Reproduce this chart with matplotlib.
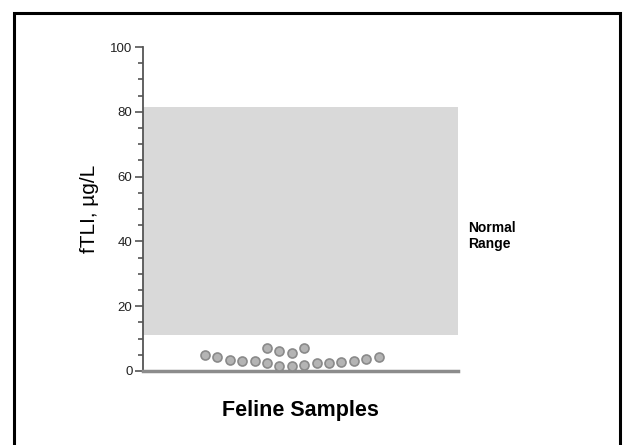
"""Dot plot of feline fTLI values against the normal range."""
import matplotlib
matplotlib.use("Agg")
import matplotlib.pyplot as plt
from matplotlib.patches import Rectangle

plt.rcParams["font.family"] = ["Liberation Sans", "DejaVu Sans"]

# sample values (µg/L) and their horizontal slots in the swarm
lower_pos = [5, 6, 7, 8, 9, 10, 11, 12, 13, 14, 15, 16, 17, 18, 19]
lower_vals = [5.0, 4.2, 3.4, 3.1, 3.0, 2.4, 1.6, 1.6, 1.9, 2.4, 2.6, 2.9, 3.2, 3.6, 4.4]
upper_pos = [10, 11, 12, 13]
upper_vals = [7.0, 6.2, 5.7, 7.0]

normal_low = 11
normal_high = 81.5
y_ticks = [0, 20, 40, 60, 80, 100]


def main() -> None:
    fig = plt.figure(figsize=(6.23, 4.45), dpi=100)
    fig.patch.set_facecolor("white")
    # black frame round the whole slide
    fig.add_artist(Rectangle((0.022, -0.02), 0.973, 0.99, transform=fig.transFigure,
                             fill=False, edgecolor="black", linewidth=2.2))

    ax = fig.add_axes([0.2295, 0.1663, 0.5055, 0.728])
    ax.set_xlim(0, 25.4)
    ax.set_ylim(0, 100)

    ax.axhspan(normal_low, normal_high, color="#d9d9d9", zorder=0, linewidth=0)

    ax.scatter(lower_pos + upper_pos, lower_vals + upper_vals, s=42,
               facecolor="#b4b4b4", edgecolor="#8a8a8a", linewidth=1.2,
               zorder=3, clip_on=False)

    for side in ("top", "right"):
        ax.spines[side].set_visible(False)
    ax.spines["left"].set_color("#555555")
    ax.spines["left"].set_linewidth(1.3)
    ax.spines["bottom"].set_color("#8c8c8c")
    ax.spines["bottom"].set_linewidth(2.5)

    ax.set_xticks([])
    ax.set_yticks(y_ticks)
    ax.set_yticks(range(0, 101, 5), minor=True)
    ax.tick_params(axis="y", which="major", length=5.5, width=1.2, color="#555555",
                   labelsize=9.5, labelcolor="#222222", pad=2)
    ax.tick_params(axis="y", which="minor", length=3.5, width=1.2, color="#555555")

    ax.set_ylabel("fTLI, µg/L", fontsize=15, labelpad=8)
    ax.set_xlabel("Feline Samples", fontsize=15.5, fontweight="bold", labelpad=21)

    fig.text(0.751, 0.47, "Normal\nRange", fontsize=10, fontweight="bold",
             va="center", ha="left", linespacing=1.15)

    fig.savefig("out.png", dpi=100)


if __name__ == "__main__":
    main()
